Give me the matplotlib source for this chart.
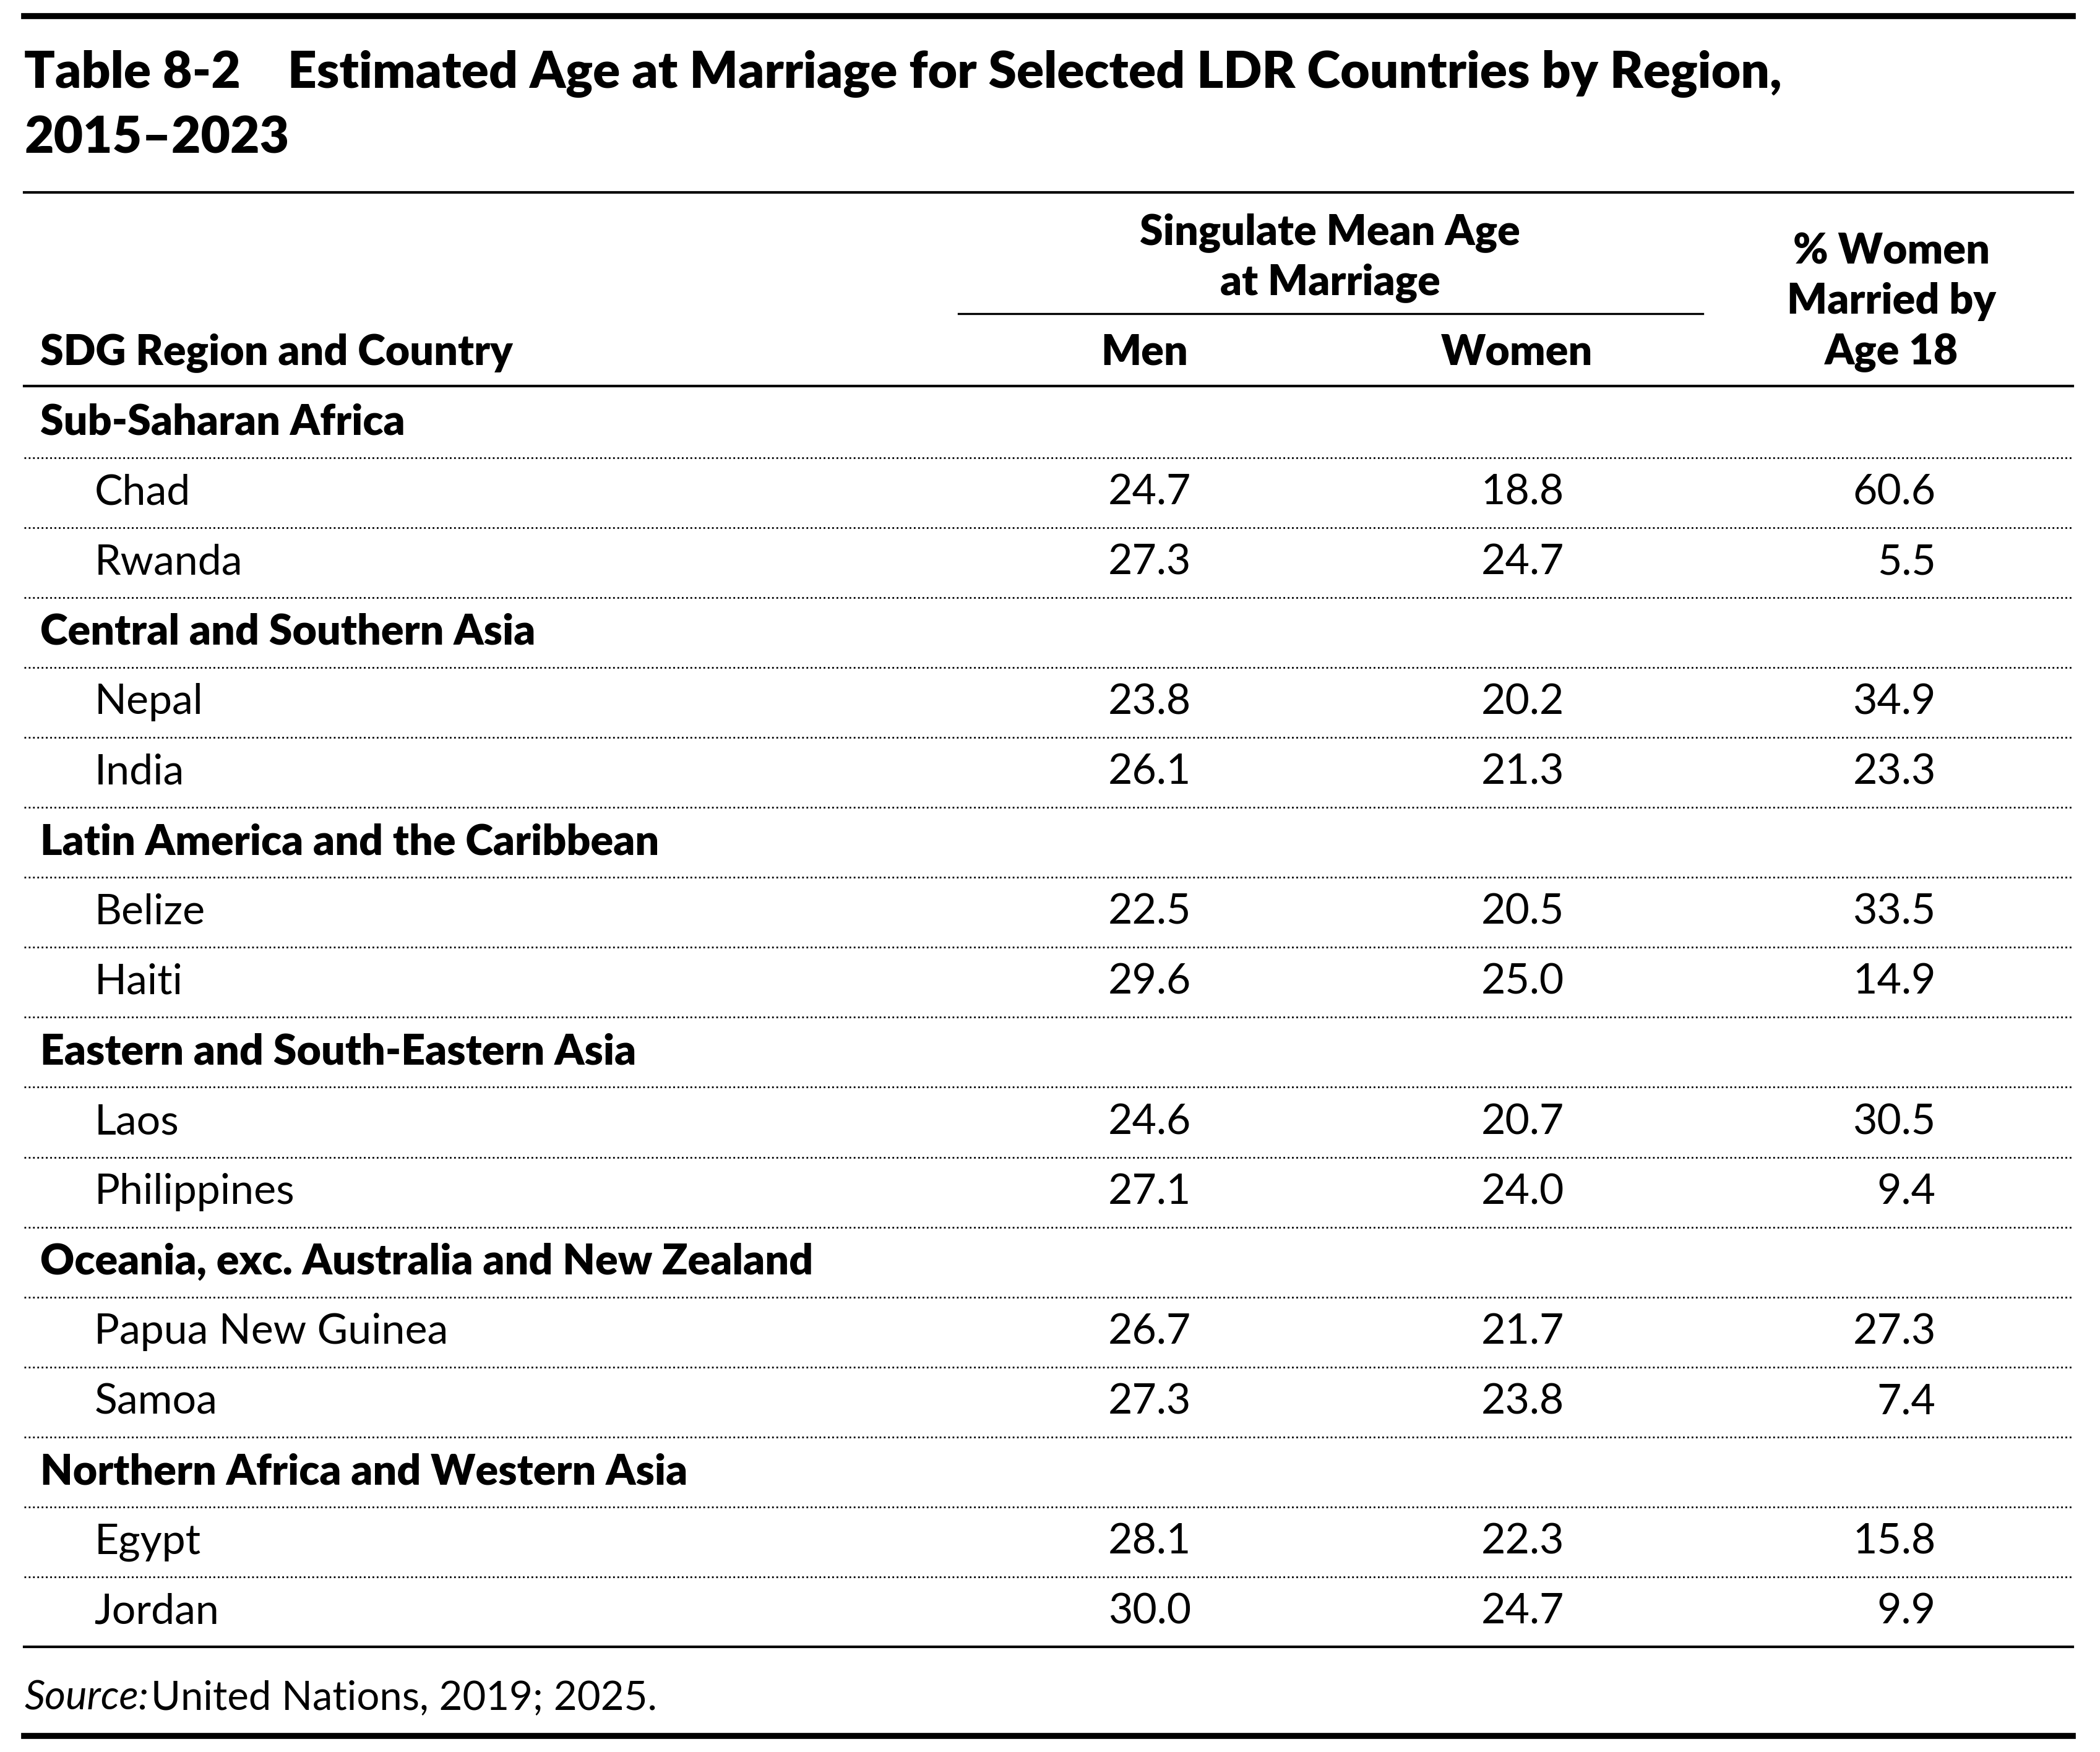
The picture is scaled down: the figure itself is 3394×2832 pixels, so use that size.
import matplotlib.pyplot as plt

plt.rcParams['font.family'] = ['Lato', 'DejaVu Sans']

# data
rows = [
    ('Sub-Saharan Africa', None, None, None),
    ('Chad', '24.7', '18.8', '60.6'),
    ('Rwanda', '27.3', '24.7', '5.5'),
    ('Central and Southern Asia', None, None, None),
    ('Nepal', '23.8', '20.2', '34.9'),
    ('India', '26.1', '21.3', '23.3'),
    ('Latin America and the Caribbean', None, None, None),
    ('Belize', '22.5', '20.5', '33.5'),
    ('Haiti', '29.6', '25.0', '14.9'),
    ('Eastern and South-Eastern Asia', None, None, None),
    ('Laos', '24.6', '20.7', '30.5'),
    ('Philippines', '27.1', '24.0', '9.4'),
    ('Oceania, exc. Australia and New Zealand', None, None, None),
    ('Papua New Guinea', '26.7', '21.7', '27.3'),
    ('Samoa', '27.3', '23.8', '7.4'),
    ('Northern Africa and Western Asia', None, None, None),
    ('Egypt', '28.1', '22.3', '15.8'),
    ('Jordan', '30.0', '24.7', '9.9'),
]

W, H = 1560, 1302
fig = plt.figure(figsize=(16.97, 14.16), dpi=200)
ax = fig.add_axes([0, 0, 1, 1])
ax.set_xlim(0, W)
ax.set_ylim(H, 0)
ax.axis('off')

fs = 24.5
bw = 'heavy'
# rules
ax.plot([18, 1540], [12, 12], color='black', lw=3.5)
ax.plot([18, 1540], [143, 143], color='black', lw=1.5)
ax.plot([712, 1265], [233, 233], color='black', lw=1.2)
ax.plot([18, 1540], [287, 287], color='black', lw=1.5)
ax.plot([18, 1540], [1290, 1290], color='black', lw=3.5)

# title
ax.text(18, 55, 'Table 8-2    Estimated Age at Marriage for Selected LDR Countries by Region,',
        fontsize=29.5, fontweight=bw, va='center', ha='left')
ax.text(18, 103, '2015\u20132023', fontsize=29.5, fontweight=bw, va='center', ha='left')

# header
ax.text(988, 173, 'Singulate Mean Age', fontsize=fs, fontweight=bw, ha='center', va='center')
ax.text(988, 210, 'at Marriage', fontsize=fs, fontweight=bw, ha='center', va='center')
ax.text(850, 262, 'Men', fontsize=fs, fontweight=bw, ha='center', va='center')
ax.text(1127, 262, 'Women', fontsize=fs, fontweight=bw, ha='center', va='center')
for yy, t in zip([187, 224, 262], ['% Women', 'Married by', 'Age 18']):
    ax.text(1405, yy, t, fontsize=fs, fontweight=bw, ha='center', va='center')
ax.text(30, 262, 'SDG Region and Country', fontsize=fs, fontweight=bw, ha='left', va='center')

# body
for i, (name, men, women, pct) in enumerate(rows):
    y = 314 + 52 * i
    if men is None:
        ax.text(30, y, name, fontsize=fs, fontweight=bw, ha='left', va='center')
    else:
        ax.text(70, y, name, fontsize=fs, ha='left', va='center')
        ax.text(885, y, men, fontsize=fs, ha='right', va='center')
        ax.text(1162, y, women, fontsize=fs, ha='right', va='center')
        ax.text(1438, y, pct, fontsize=fs, ha='right', va='center')
    ly = y + 26
    if i == len(rows) - 1:
        ax.plot([18, 1540], [ly, ly], color='black', lw=1.5)
    else:
        ax.plot([18, 1540], [ly, ly], color='black', lw=1.0, ls=(0, (1, 1.5)))

ax.text(18, 1262, 'Source:', fontsize=fs - 1, fontstyle='italic', ha='left', va='center')
ax.text(112, 1262, 'United Nations, 2019; 2025.', fontsize=fs - 1, ha='left', va='center')

fig.savefig('out.png', dpi=200)
